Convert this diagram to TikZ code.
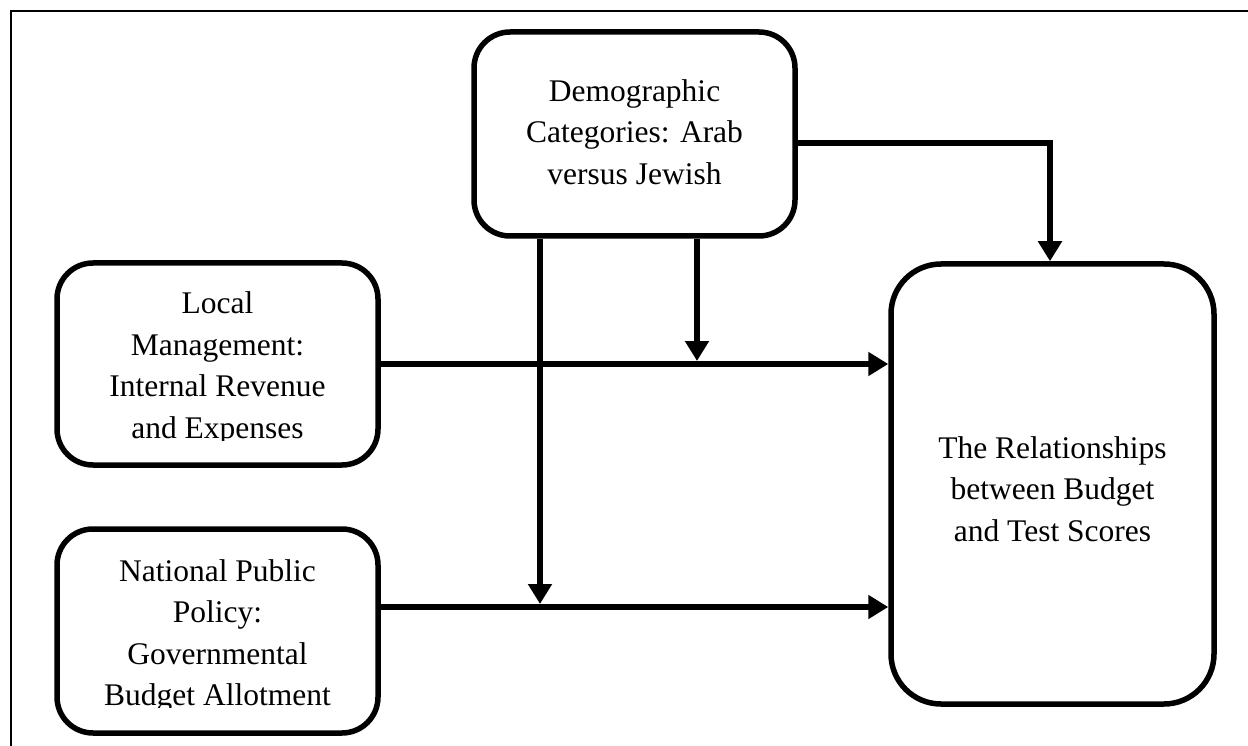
\documentclass[tikz,border=0pt]{standalone}
\usepackage{fontspec}
\setmainfont{Liberation Serif}
\usetikzlibrary{arrows.meta}
\begin{document}
\begin{tikzpicture}[x=1pt,y=-1pt,
  box/.style={draw,line width=5.5pt,rounded corners=36pt,inner sep=0pt},
  lbl/.style={align=center,font=\fontsize{31.5}{41.5}\selectfont,inner sep=0pt,anchor=north},
  conn/.style={line width=6pt,-{Triangle[length=20pt,width=23pt]}}]
\useasboundingbox (0,0) rectangle (1248,746);
\draw[line width=2.5pt] (11,760) -- (11,11) -- (1260,11);
% boxes
\node[box,minimum width=321pt,minimum height=204pt] (dem) at (634.5,134) {};
\node[box,minimum width=321pt,minimum height=202pt] (loc) at (217.5,364) {};
\node[box,minimum width=321pt,minimum height=204pt] (nat) at (217.5,631) {};
\node[box,rounded corners=50pt,minimum width=323pt,minimum height=440pt] (res) at (1052.5,484) {};
% texts
\node[lbl] (demT) at (634.5,79) {Demographic\\Categories: Arab\\versus Jewish};
\begin{scope}
\clip (55,261) rectangle (380,440);
\node[lbl] (locT) at (217.5,291.5) {Local\\Management:\\Internal Revenue\\and Expenses};
\end{scope}
\begin{scope}
\clip (55,527) rectangle (380,707);
\node[lbl] (natT) at (217.5,559) {National Public\\Policy:\\Governmental\\Budget Allotment};
\end{scope}
\node[lbl] (resT) at (1052.5,436) {The Relationships\\between Budget\\and Test Scores};
% connectors
\coordinate (c1) at (1050,143);
\coordinate (c2) at (0,607);
\coordinate (j1) at (540,604);
\coordinate (j2) at (697,361);
\draw[conn] (dem.east |- c1) -| (res.north -| c1);
\draw[conn] (loc.east) -- (res.west |- loc.east);
\draw[conn] (nat.east |- c2) -- (res.west |- c2);
\draw[conn] (dem.south -| j1) -- (j1);
\draw[conn] (dem.south -| j2) -- (j2);
\end{tikzpicture}
\end{document}
